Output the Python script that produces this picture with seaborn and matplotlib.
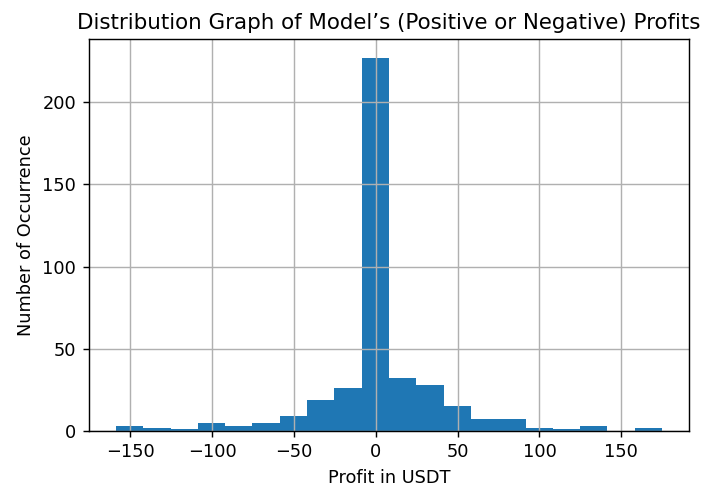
import numpy as np
import pandas as pd
import matplotlib
matplotlib.use('Agg')
import matplotlib.pyplot as plt
import seaborn as sns


# histogram counts (20 equal bins)
profit_min = -158.8
profit_max = 174.9
counts = [3, 2, 1, 5, 3, 5, 9, 19, 26, 227, 32, 28, 15, 7, 7, 2, 1, 3, 0, 2]

edges = np.linspace(profit_min, profit_max, len(counts) + 1)
df = pd.DataFrame({'profit': (edges[:-1] + edges[1:]) / 2, 'count': counts})


# plot
dpi = 128
fig = plt.figure(figsize=(724 / dpi, 488 / dpi), dpi=dpi)
ax = fig.add_axes([0.1225, 0.1168, 0.8296, 0.8027])

sns.histplot(data=df, x='profit', weights='count', bins=list(edges),
             color='#1f77b4', alpha=1, linewidth=0, ax=ax)

ax.grid(True, color='#b0b0b0', linewidth=0.8)
ax.set_xticks([-150, -100, -50, 0, 50, 100, 150])
ax.set_yticks([0, 50, 100, 150, 200])
ax.tick_params(labelsize=10)
ax.set_xlabel('Profit in USDT', fontsize=10)
ax.set_ylabel('Number of Occurrence', fontsize=10)
ax.set_title('Distribution Graph of Model\u2019s (Positive or Negative) Profits', fontsize=12)

fig.savefig('out.png', dpi=dpi)
